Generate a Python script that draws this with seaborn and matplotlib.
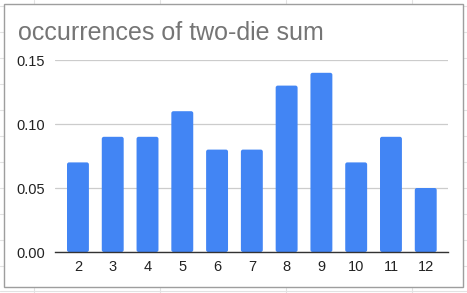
import matplotlib
matplotlib.use("Agg")
import matplotlib.pyplot as plt
import seaborn as sns
import pandas as pd
from matplotlib.patches import FancyBboxPatch, Rectangle
from matplotlib.lines import Line2D

sums = ["2", "3", "4", "5", "6", "7", "8", "9", "10", "11", "12"]
freq = [0.07, 0.09, 0.09, 0.11, 0.08, 0.08, 0.13, 0.14, 0.07, 0.09, 0.05]
yticks = [0.00, 0.05, 0.10, 0.15]
title = "occurrences of two-die sum"

sns.set_theme(style="white")
plt.rcParams['font.family'] = ['Liberation Sans', 'DejaVu Sans']

W, H = 467, 293
fig = plt.figure(figsize=(W / 100, H / 100), dpi=100)
fig.patch.set_facecolor("white")

# spreadsheet gridlines behind chart
for x in [34, 160, 286, 412]:
    fig.add_artist(Line2D([x / W, x / W], [0, 1], color="#e2e2e2", lw=0.8, zorder=0))
for y in [6, 32, 58, 84, 110, 136, 162, 188, 214, 240, 266, 291]:
    fig.add_artist(Line2D([0, 1], [1 - y / H, 1 - y / H], color="#e2e2e2", lw=0.8, zorder=0))

# chart frame
fig.add_artist(Rectangle((4 / W, 1 - 287 / H), (463 - 4) / W, (287 - 4) / H,
                         facecolor="white", edgecolor="#9e9e9e", lw=1.0, zorder=1))

ax = fig.add_axes([55 / W, 1 - 252 / H, (448 - 55) / W, (252 - 60) / H], zorder=2)
ax.patch.set_alpha(0)

df = pd.DataFrame({"sum": sums, "freq": freq})
sns.barplot(data=df, x="sum", y="freq", color="#4285f4", saturation=1, width=0.63, ax=ax, zorder=3)

# round the top corners of the bars
for p in list(ax.patches):
    x0, y0 = p.get_x(), p.get_y()
    w, h = p.get_width(), p.get_height()
    p.remove()
    fb = FancyBboxPatch((x0, y0), w, h,
                        boxstyle="round,pad=0,rounding_size=0.06",
                        mutation_aspect=0.15 / 192 * 34.75,
                        facecolor="#4285f4", edgecolor="none", zorder=3)
    ax.add_patch(fb)

ax.set_ylim(0, 0.15)
ax.set_xlim(-0.66, len(sums) - 1 + 0.64)
ax.set_yticks(yticks)
ax.set_yticklabels([f"{v:.2f}" for v in yticks])
ax.yaxis.grid(True, color="#cccccc", lw=0.9)
ax.set_axisbelow(True)
for s in ["top", "right", "left"]:
    ax.spines[s].set_visible(False)
ax.spines["bottom"].set_color("#333333")
ax.spines["bottom"].set_linewidth(1.0)
ax.spines["bottom"].set_zorder(4)
ax.tick_params(axis="both", length=0, labelsize=10.5, colors="#222222")
ax.tick_params(axis="y", pad=7)
ax.tick_params(axis="x", pad=6)
ax.set_xlabel("")
ax.set_ylabel("")

fig.text(18 / W, 1 - 33 / H, title, fontsize=18, color="#757575", va="center", ha="left", zorder=5)

fig.savefig("out.png", dpi=100)
